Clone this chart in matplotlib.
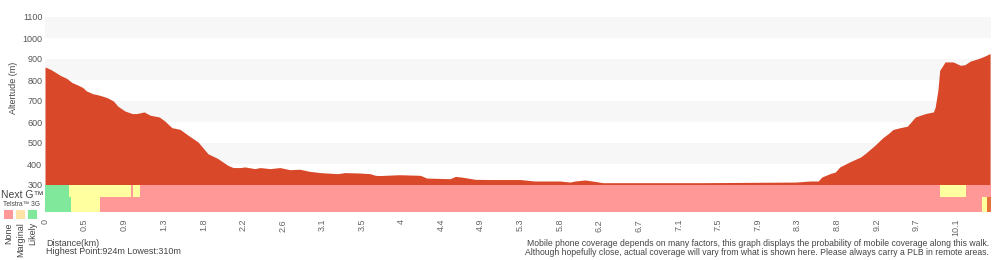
import matplotlib
matplotlib.use("Agg")
import matplotlib.pyplot as plt
import numpy as np

plt.rcParams['font.family'] = ['Liberation Sans', 'DejaVu Sans']

# elevation profile (distance km, altitude m)
dist_km = [0.00, 0.06, 0.11, 0.17, 0.24, 0.30, 0.37, 0.42, 0.46, 0.53, 0.61,
           0.69, 0.76, 0.81, 0.89, 0.97, 1.02, 1.10, 1.17, 1.27, 1.33, 1.41,
           1.50, 1.59, 1.70, 1.81, 1.92, 2.03, 2.09, 2.17, 2.22, 2.33, 2.39,
           2.50, 2.61, 2.72, 2.83, 2.94, 3.06, 3.25, 3.33, 3.50, 3.61, 3.67,
           3.72, 3.94, 4.17, 4.24, 4.50, 4.56, 4.64, 4.78, 4.94, 5.28, 5.44,
           5.72, 5.83, 5.89, 6.00, 6.08, 6.20, 7.28, 8.34, 8.50, 8.59, 8.63,
           8.72, 8.78, 8.83, 8.94, 9.06, 9.11, 9.22, 9.31, 9.37, 9.42, 9.50,
           9.58, 9.67, 9.78, 9.87, 9.89, 9.92, 9.94, 10.00, 10.09, 10.17,
           10.22, 10.28, 10.37, 10.42, 10.50]
alt_m = [862, 851, 838, 822, 808, 788, 775, 764, 748, 735, 727,
         716, 700, 675, 652, 640, 640, 648, 632, 624, 605, 573,
         565, 537, 505, 449, 426, 394, 383, 383, 386, 378, 383,
         378, 383, 373, 375, 365, 359, 354, 359, 357, 354, 346,
         345, 349, 346, 333, 330, 341, 337, 327, 326, 326, 319,
         319, 314, 319, 324, 319, 311, 311, 314, 319, 319, 338,
         354, 362, 386, 410, 433, 449, 489, 526, 545, 564, 573,
         580, 624, 640, 648, 671, 751, 846, 886, 886, 870,
         873, 890, 902, 910, 926]

# coverage segments (start km, end km, level)
nextg_segments = [(0.00, 0.27, 'likely'), (0.27, 0.96, 'marginal'),
                  (0.96, 0.98, 'none'), (0.98, 1.06, 'marginal'),
                  (1.06, 9.94, 'none'), (9.94, 10.23, 'marginal'),
                  (10.23, 10.51, 'none')]
g3_segments = [(0.00, 0.29, 'likely'), (0.29, 0.61, 'marginal'),
               (0.61, 10.41, 'none'), (10.41, 10.47, 'marginal'),
               (10.47, 10.51, 'edge')]

tick_labels = ['0', '0.5', '0.9', '1.3', '1.8', '2.2', '2.6', '3.1', '3.5',
               '4', '4.4', '4.9', '5.3', '5.8', '6.2', '6.7', '7.1', '7.5',
               '7.9', '8.3', '8.8', '9.2', '9.7', '10.1']
tick_step = 0.44
total_km = 10.51
alt_ticks = [300, 400, 500, 600, 700, 800, 900, 1000, 1100]

colours = {'none': '#ff9896', 'marginal': '#ffffa0', 'likely': '#80e89a',
           'edge': '#e8703a'}
fill_colour = '#d94828'
text_col = '#444444'

W, H = 1000, 260
fig = plt.figure(figsize=(W / 100, H / 100), dpi=100)

def box(x0, y0, x1, y1):
    # pixel box (top-left origin) to figure fraction
    return [x0 / W, 1 - y1 / H, (x1 - x0) / W, (y1 - y0) / H]

# elevation axes
ax = fig.add_axes(box(45, 17, 991, 185))
for lo in [400, 600, 800, 1000]:
    ax.axhspan(lo, lo + 100, color='#f7f7f7', lw=0, zorder=0)
ax.fill_between(dist_km, alt_m, 0, color=fill_colour, lw=0, zorder=2)
ax.set_xlim(0, total_km)
ax.set_ylim(300, 1100)
ax.set_yticks(alt_ticks)
ax.set_yticklabels([str(v) for v in alt_ticks], fontsize=6.5, color='#555555')
ax.set_xticks([])
ax.tick_params(axis='y', length=0, pad=2)
for s in ax.spines.values():
    s.set_visible(False)
fig.text(14 / W, 1 - 88 / H, 'Altertude (m)', rotation=90, ha='center',
         va='center', fontsize=6.5, color=text_col)

# coverage strip
cax = fig.add_axes(box(45, 185, 991, 212))
cax.set_xlim(0, total_km)
cax.set_ylim(0, 27)
for x0, x1, lvl in nextg_segments:
    cax.broken_barh([(x0, x1 - x0)], (15, 12), color=colours[lvl], lw=0)
for x0, x1, lvl in g3_segments:
    cax.broken_barh([(x0, x1 - x0)], (0, 15), color=colours[lvl], lw=0)
cax.set_yticks([])
cax.set_xticks([i * tick_step for i in range(len(tick_labels))])
cax.set_xticklabels(tick_labels, rotation=90, fontsize=6.5, color='#666666')
cax.tick_params(axis='x', length=0, pad=5)
for s in cax.spines.values():
    s.set_visible(False)

# coverage legend on the left
fig.text(1 / W, 1 - 195 / H, 'Next G\u2122', fontsize=7.5, color=text_col,
         va='center', ha='left')
fig.text(3 / W, 1 - 204.5 / H, 'Telstra\u2122 3G', fontsize=4.8,
         color=text_col, va='center', ha='left')
leg_items = [('None', '#ff9896', 4), ('Marginal', '#ffe2a8', 16),
             ('Likely', '#80e89a', 28)]
for name, col, lx in leg_items:
    fig.patches.append(plt.Rectangle((lx / W, 1 - 219 / H), 9 / W, 9 / H,
                                     transform=fig.transFigure, color=col, lw=0))
    fig.text((lx + 4.5) / W, 1 - 222 / H, name, rotation=90, fontsize=6.5,
             color=text_col, ha='center', va='top')

# footer text
fig.text(46 / W, 1 - 243 / H, 'Distance(km)', fontsize=6.5, color=text_col,
         va='center')
fig.text(46 / W, 1 - 252 / H, 'Highest Point:924m Lowest:310m', fontsize=6.5,
         color=text_col, va='center')
fig.text(989 / W, 1 - 243.5 / H,
         'Mobile phone coverage depends on many factors, this graph displays '
         'the probability of mobile coverage along this walk.',
         fontsize=6.2, color=text_col, va='center', ha='right')
fig.text(989 / W, 1 - 252.5 / H,
         'Although hopefully close, actual coverage will vary from what is '
         'shown here. Please always carry a PLB in remote areas.',
         fontsize=6.2, color=text_col, va='center', ha='right')

fig.savefig('out.png', dpi=100)
